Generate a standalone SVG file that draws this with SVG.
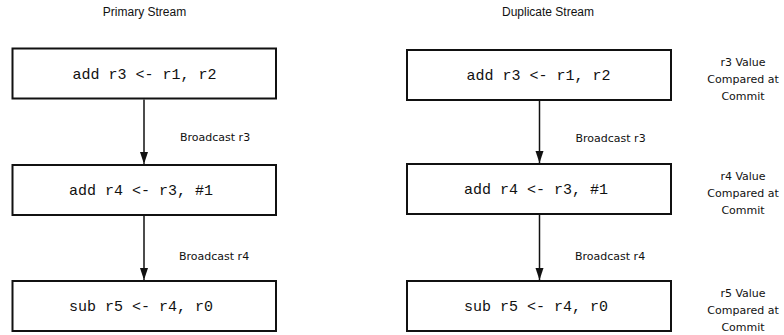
<svg xmlns="http://www.w3.org/2000/svg" width="784" height="335" viewBox="0 0 784 335">
  <style>
    .box { fill: #ffffff; stroke: #111111; stroke-width: 2; }
    .code { font-family: "Liberation Mono", "Courier New", monospace; font-size: 15px; fill: #111111; }
    .title { font-family: "Liberation Sans", Arial, sans-serif; font-size: 12px; fill: #111111; text-anchor: middle; }
    .label { font-family: "DejaVu Sans", "Liberation Sans", sans-serif; font-size: 11px; fill: #111111; }
    .note { font-family: "DejaVu Sans", "Liberation Sans", sans-serif; font-size: 11px; fill: #111111; text-anchor: middle; }
    .wire { stroke: #111111; stroke-width: 1.5; fill: none; }
  </style>
  <defs>
    <marker id="head" markerUnits="userSpaceOnUse" markerWidth="10" markerHeight="14" refX="12" refY="4" orient="auto">
      <path d="M0,0 L12,4 L0,8 Z" fill="#111111"/>
    </marker>
  </defs>
  <rect width="784" height="335" fill="#ffffff"/>

  <!-- column headings -->
  <text class="title" x="144.5" y="16">Primary Stream</text>
  <text class="title" x="548" y="16">Duplicate Stream</text>

  <!-- connectors -->
  <g id="connectors">
    <line class="wire" x1="144" y1="99.5" x2="144" y2="164" marker-end="url(#head)"/>
    <line class="wire" x1="144" y1="216" x2="144" y2="280" marker-end="url(#head)"/>
    <line class="wire" x1="539.5" y1="101" x2="539.5" y2="163" marker-end="url(#head)"/>
    <line class="wire" x1="539.5" y1="215" x2="539.5" y2="280" marker-end="url(#head)"/>
    <text class="label" x="180" y="141">Broadcast r3</text>
    <text class="label" x="179" y="260">Broadcast r4</text>
    <text class="label" x="575.5" y="142">Broadcast r3</text>
    <text class="label" x="575" y="260">Broadcast r4</text>
  </g>

  <!-- primary stream instructions -->
  <g id="p-add-r3">
    <rect class="box" x="12.5" y="48.5" width="263.5" height="50"/>
    <text class="code" x="72.5" y="78.5">add r3 &lt;- r1, r2</text>
  </g>
  <g id="p-add-r4">
    <rect class="box" x="12.5" y="165" width="263.5" height="50"/>
    <text class="code" x="69" y="195">add r4 &lt;- r3, #1</text>
  </g>
  <g id="p-sub-r5">
    <rect class="box" x="12.5" y="281" width="263.5" height="50"/>
    <text class="code" x="69" y="311">sub r5 &lt;- r4, r0</text>
  </g>

  <!-- duplicate stream instructions -->
  <g id="d-add-r3">
    <rect class="box" x="407" y="50" width="264" height="50"/>
    <text class="code" x="466.5" y="80">add r3 &lt;- r1, r2</text>
  </g>
  <g id="d-add-r4">
    <rect class="box" x="407" y="164" width="264" height="50"/>
    <text class="code" x="464" y="194">add r4 &lt;- r3, #1</text>
  </g>
  <g id="d-sub-r5">
    <rect class="box" x="407" y="281" width="264" height="50"/>
    <text class="code" x="464" y="311">sub r5 &lt;- r4, r0</text>
  </g>

  <!-- commit comparison notes -->
  <g id="note-r3">
    <text class="note" x="743" y="66">r3 Value</text>
    <text class="note" x="743" y="83">Compared at</text>
    <text class="note" x="743" y="100">Commit</text>
  </g>
  <g id="note-r4">
    <text class="note" x="743" y="180">r4 Value</text>
    <text class="note" x="743" y="197">Compared at</text>
    <text class="note" x="743" y="214">Commit</text>
  </g>
  <g id="note-r5">
    <text class="note" x="743" y="297">r5 Value</text>
    <text class="note" x="743" y="314">Compared at</text>
    <text class="note" x="743" y="331">Commit</text>
  </g>
</svg>
